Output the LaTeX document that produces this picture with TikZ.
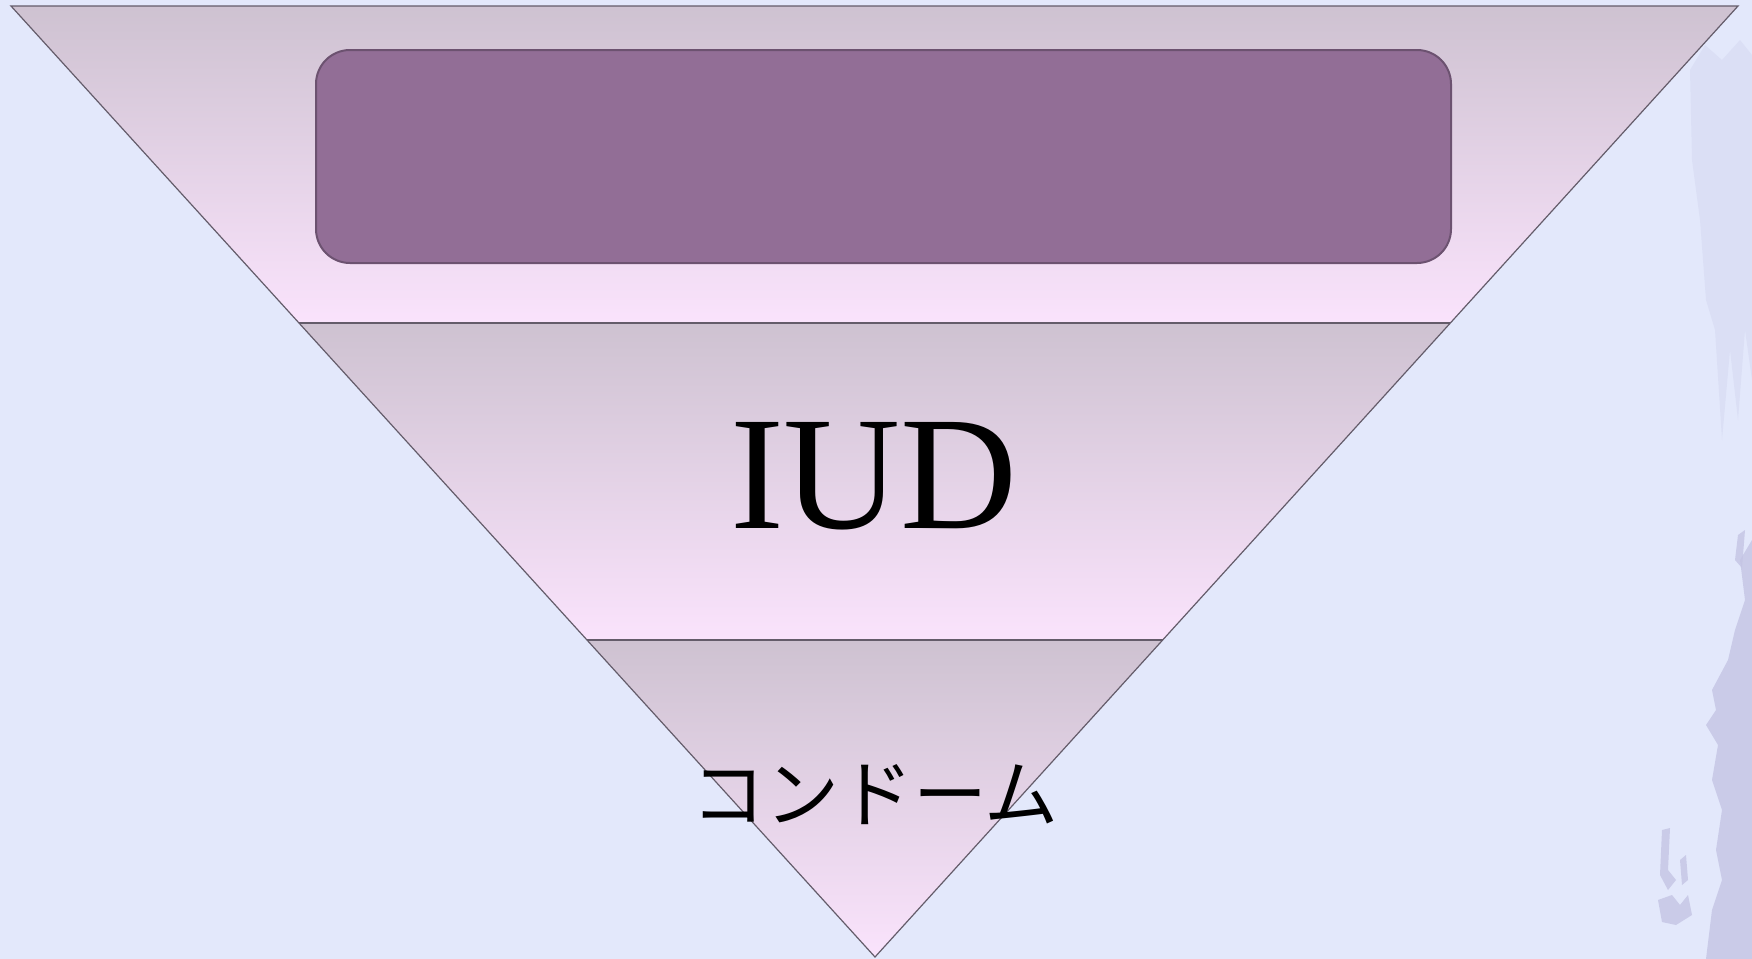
\documentclass[tikz,border=0pt]{standalone}
\usepackage{fontspec}
\setmainfont{Liberation Serif}
\newfontfamily\cjk{Noto Sans CJK JP}
\definecolor{bgc}{RGB}{227,232,251}
\definecolor{bandtop}{RGB}{206,194,209}
\definecolor{bandbot}{RGB}{250,227,252}
\definecolor{boxfill}{RGB}{146,110,150}
\definecolor{boxline}{RGB}{108,82,112}
\definecolor{edge}{RGB}{100,92,106}
\definecolor{brush}{RGB}{196,196,228}
\definecolor{brushlight}{RGB}{214,218,242}
\tikzset{
  band/.style={top color=bandtop, bottom color=bandbot, draw=none},
  edgeline/.style={draw=edge, line width=0.6pt, line join=miter},
  topbox/.style={draw=boxline, line width=1pt, fill=boxfill, rounded corners=17pt},
  lbl/.style={text=black, inner sep=0pt}
}
\begin{document}
\begin{tikzpicture}[x=0.5pt,y=-0.5pt]
\fill[bgc] (0,0) rectangle (1752,959);
\useasboundingbox (0,0) rectangle (1752,959);
% faint brush texture on the right edge
\fill[brushlight, opacity=0.6] (1690,70) -- (1705,45) -- (1722,60) -- (1740,40) -- (1752,55) -- (1752,380) -- (1745,330) -- (1738,420) -- (1730,350) -- (1722,440) -- (1715,330) -- (1706,300) -- (1700,220) -- (1692,160) -- cycle;
\fill[brush, opacity=0.8] (1752,540) -- (1740,560) -- (1745,600) -- (1735,630) -- (1728,660) -- (1712,690) -- (1716,710) -- (1706,725) -- (1718,745) -- (1712,780) -- (1722,810) -- (1716,850) -- (1722,880) -- (1712,910) -- (1706,959) -- (1752,959) -- cycle;
\fill[brush, opacity=0.8] (1738,535) -- (1745,530) -- (1742,568) -- (1735,560) -- cycle;
\fill[brush, opacity=0.8] (1662,830) -- (1670,828) -- (1668,870) -- (1676,880) -- (1668,890) -- (1660,875) -- cycle;
\fill[brush, opacity=0.8] (1658,900) -- (1672,895) -- (1680,905) -- (1688,895) -- (1692,915) -- (1676,925) -- (1662,922) -- cycle;
\fill[brush, opacity=0.8] (1680,860) -- (1686,855) -- (1688,880) -- (1682,885) -- cycle;
% bands
\coordinate (tl) at (11,6);
\coordinate (tr) at (1738,6);
\coordinate (m1l) at (299,323);
\coordinate (m1r) at (1450,323);
\coordinate (m2l) at (587,640);
\coordinate (m2r) at (1163,640);
\coordinate (apex) at (875,957);
\shade[band] (tl) -- (tr) -- (m1r) -- (m1l) -- cycle;
\shade[band] (m1l) -- (m1r) -- (m2r) -- (m2l) -- cycle;
\shade[band] (m2l) -- (m2r) -- (apex) -- cycle;
\draw[edgeline] (tl) -- (tr) -- (apex) -- cycle;
\draw[edgeline] (m1l) -- (m1r);
\draw[edgeline] (m2l) -- (m2r);
% top rounded box
\node[topbox, minimum width=567.5pt, minimum height=106.5pt, anchor=north west] (box) at (315,49) {};
% labels
\node[lbl, font=\fontsize{81}{81}\selectfont] (iud) at (874,476) {IUD};
\node[lbl, font=\cjk\fontsize{37}{37}\selectfont] (condom) at (875,795) {コンドーム};
\end{tikzpicture}
\end{document}
